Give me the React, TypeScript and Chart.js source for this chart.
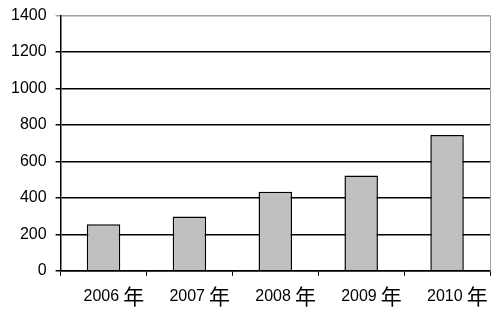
import React, { useEffect, useRef } from "react";
import { Chart, registerables } from "chart.js";

Chart.register(...registerables);

const years = ["2006", "2007", "2008", "2009", "2010"];
const suffix = "年";
const categories = years.map((y) => y + " " + suffix);
const values = [255, 298, 434, 523, 745];
const yTicks = [0, 200, 400, 600, 800, 1000, 1200, 1400];

const decorPlugin = {
  id: "decor",
  afterDraw(chart: any) {
    const { ctx, chartArea } = chart;
    const xs = chart.scales.x;
    ctx.save();
    ctx.strokeStyle = "#a0a0a0";
    ctx.lineWidth = 1;
    ctx.beginPath();
    ctx.moveTo(Math.round(chartArea.right) + 0.5, chartArea.top);
    ctx.lineTo(Math.round(chartArea.right) + 0.5, chartArea.bottom);
    ctx.stroke();
    ctx.fillStyle = "#000";
    ctx.textBaseline = "middle";
    ctx.textAlign = "left";
    const y = chartArea.bottom + 26;
    years.forEach((yr, i) => {
      const cx = xs.getPixelForTick(i);
      ctx.font = "16px 'Liberation Sans', Arial, sans-serif";
      const w = ctx.measureText(yr).width;
      const x0 = cx - 20;
      ctx.fillText(yr, x0, y);
      ctx.font = "21px 'Noto Sans CJK SC', sans-serif";
      ctx.fillText(suffix, x0 + w + 4, y - 1);
    });
    ctx.restore();
  },
};

export default function App() {
  const ref = useRef<HTMLCanvasElement>(null);
  useEffect(() => {
    document.body.style.margin = "0";
    const chart = new Chart(ref.current!, {
      type: "bar",
      data: {
        labels: categories,
        datasets: [
          {
            data: values,
            backgroundColor: "#c0c0c0",
            borderColor: "#000000",
            borderWidth: 1.5,
            barPercentage: 0.39,
            categoryPercentage: 1,
          },
        ],
      },
      options: {
        animation: false,
        responsive: false,
        maintainAspectRatio: false,
        layout: { padding: { left: 2, right: 10, top: 0, bottom: 2 } },
        plugins: { legend: { display: false }, tooltip: { enabled: false } },
        scales: {
          x: {
            offset: true,
            grid: {
              offset: true,
              drawOnChartArea: false,
              drawTicks: true,
              tickLength: 5,
              color: "#000",
            },
            border: { color: "#000", width: 1.5 },
            ticks: {
              color: "rgba(0,0,0,0)",
              padding: 7,
              font: { family: "Liberation Sans, Arial, sans-serif", size: 16 },
            },
          },
          y: {
            min: 0,
            max: 1400,
            afterBuildTicks: (axis: any) => {
              axis.ticks = yTicks.map((v) => ({ value: v }));
            },
            grid: {
              color: (c: any) => (c.tick && c.tick.value === 1400 ? "#a0a0a0" : "#000"),
              lineWidth: 1.5,
              tickLength: 5,
            },
            border: { color: "#000", width: 1.5 },
            ticks: {
              color: "#000",
              padding: 9,
              callback: (v: any) => String(v),
              font: { family: "Liberation Sans, Arial, sans-serif", size: 16, lineHeight: 0.8 },
            },
          },
        },
      },
      plugins: [decorPlugin],
    });
    return () => chart.destroy();
  }, []);
  return (
    <div style={{ width: 500, height: 311 }}>
      <canvas ref={ref} width={500} height={311} style={{ width: 500, height: 311 }} />
    </div>
  );
}
